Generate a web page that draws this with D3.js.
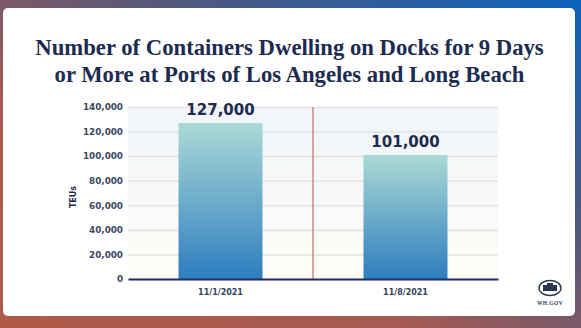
<!DOCTYPE html>
<html>
<head>
<meta charset="utf-8">
<script src="https://cdn.jsdelivr.net/npm/d3@7"></script>
<style>
  body { margin: 0; }
  svg { display: block; }
</style>
</head>
<body>
<svg width="581" height="328"></svg>
<script>
var dates = ["11/1/2021", "11/8/2021"],
    teus = [127000, 101000],
    yTicks = [0, 20000, 40000, 60000, 80000, 100000, 120000, 140000],
    titleLines = ["Number of Containers Dwelling on Docks for 9 Days",
                  "or More at Ports of Los Angeles and Long Beach"];

var svg = d3.select("svg"),
    W = +svg.attr("width"),
    H = +svg.attr("height"),
    margin = {top: 107, right: 83, bottom: 49, left: 128},
    width = W - margin.left - margin.right,
    height = H - margin.top - margin.bottom;

var navy = "#1c2b50";
var defs = svg.append("defs");

var bg = defs.append("linearGradient").attr("id", "bg")
    .attr("x1", 0).attr("y1", 1).attr("x2", 1).attr("y2", 0);
bg.append("stop").attr("offset", "0%").attr("stop-color", "#b05a48");
bg.append("stop").attr("offset", "35%").attr("stop-color", "#a65a52");
bg.append("stop").attr("offset", "65%").attr("stop-color", "#50587e");
bg.append("stop").attr("offset", "100%").attr("stop-color", "#0c63bd");

var barGrad = defs.append("linearGradient").attr("id", "bar")
    .attr("x1", 0).attr("y1", 0).attr("x2", 0).attr("y2", 1);
barGrad.append("stop").attr("offset", "0%").attr("stop-color", "#abdad6");
barGrad.append("stop").attr("offset", "100%").attr("stop-color", "#2e7dbf");

var plotGrad = defs.append("linearGradient").attr("id", "plotbg")
    .attr("x1", 0).attr("y1", 0).attr("x2", 0).attr("y2", 1);
plotGrad.append("stop").attr("offset", "0%").attr("stop-color", "#f1f5f9");
plotGrad.append("stop").attr("offset", "100%").attr("stop-color", "#fefdf8");

svg.append("rect").attr("width", W).attr("height", H).attr("fill", "url(#bg)");

// white card
svg.append("rect")
    .attr("x", 3).attr("y", 8).attr("width", 572).attr("height", 308)
    .attr("rx", 5).attr("fill", "#ffffff");

// title
svg.append("g").selectAll("text")
  .data(titleLines)
  .enter().append("text")
    .attr("x", 289.5)
    .attr("y", function(d, i) { return 55 + i * 27; })
    .attr("text-anchor", "middle")
    .style("font", "bold 22.7px 'Liberation Serif', serif")
    .attr("fill", navy)
    .text(function(d) { return d; });

var g = svg.append("g").attr("transform", "translate(" + margin.left + "," + margin.top + ")");

var x = d3.scaleBand().domain(dates).range([0, width]).paddingInner(0.546).paddingOuter(0.273),
    y = d3.scaleLinear().domain([0, 140000]).range([height, 0]);

g.append("rect").attr("width", width).attr("height", height).attr("fill", "url(#plotbg)");

// gridlines + tick labels
g.append("g")
    .call(d3.axisLeft(y).tickValues(yTicks).tickSize(-width).tickPadding(5)
      .tickFormat(d3.format(",")))
    .call(function(a) {
      a.select(".domain").remove();
      a.selectAll(".tick line").attr("stroke", "#e3e3e3").attr("stroke-width", 1.6);
      a.selectAll(".tick text")
        .attr("fill", "#3a4766")
        .style("font", "bold 8.8px 'DejaVu Sans', sans-serif");
    });

// divider between dates
g.append("line")
    .attr("x1", width / 2).attr("x2", width / 2)
    .attr("y1", 0).attr("y2", height)
    .attr("stroke", "#c98a80").attr("stroke-width", 1.5);

g.selectAll(".bar")
  .data(dates)
  .enter().append("rect")
    .attr("class", "bar")
    .attr("x", function(d) { return x(d); })
    .attr("y", function(d, i) { return y(teus[i]); })
    .attr("width", x.bandwidth())
    .attr("height", function(d, i) { return height - y(teus[i]); })
    .attr("fill", "url(#bar)");

g.selectAll(".val")
  .data(dates)
  .enter().append("text")
    .attr("class", "val")
    .attr("x", function(d) { return x(d) + x.bandwidth() / 2; })
    .attr("y", function(d, i) { return y(teus[i]) - 8; })
    .attr("text-anchor", "middle")
    .attr("fill", navy)
    .style("font", "bold 15px 'DejaVu Sans', sans-serif")
    .text(function(d, i) { return d3.format(",")(teus[i]); });

// baseline + x labels
g.append("g")
    .attr("transform", "translate(0," + height + ")")
    .call(d3.axisBottom(x).tickSize(0).tickPadding(10))
    .call(function(a) {
      a.select(".domain").attr("stroke", "#1f3160").attr("stroke-width", 2);
      a.selectAll(".tick text")
        .attr("fill", "#34425f")
        .style("font", "bold 8px 'DejaVu Sans', sans-serif");
    });

g.append("text")
    .attr("transform", "translate(-52," + (height / 2 + 4) + ") rotate(-90)")
    .attr("text-anchor", "middle")
    .attr("fill", navy)
    .style("font", "bold 8px 'DejaVu Sans', sans-serif")
    .text("TEUs");

// WH.GOV mark
var logo = svg.append("g").attr("transform", "translate(550,288)");
logo.append("ellipse").attr("rx", 11).attr("ry", 7.5)
    .attr("fill", "none").attr("stroke", "#2a3550").attr("stroke-width", 1.4);
logo.append("rect").attr("x", -7).attr("y", -3).attr("width", 14).attr("height", 6)
    .attr("fill", "#2a3550");
logo.append("rect").attr("x", -3).attr("y", -5).attr("width", 6).attr("height", 2)
    .attr("fill", "#2a3550");
svg.append("text")
    .attr("x", 550).attr("y", 305)
    .attr("text-anchor", "middle")
    .attr("fill", "#2a3550")
    .style("font", "bold 5.5px 'Liberation Serif', serif")
    .attr("letter-spacing", 0.4)
    .text("WH.GOV");
</script>
</body>
</html>
